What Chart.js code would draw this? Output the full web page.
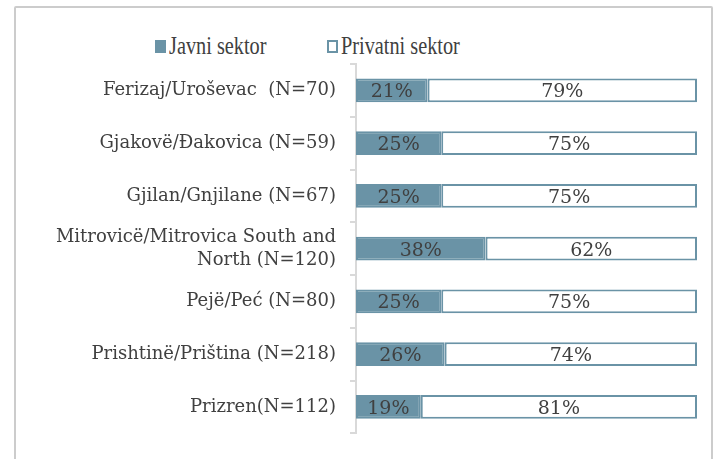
<!DOCTYPE html>
<html>
<head>
<meta charset="utf-8">
<script src="https://cdn.jsdelivr.net/npm/chart.js@4.4.1/dist/chart.umd.min.js"></script>
<style>
    html, body { margin: 0; padding: 0; background: #fff; }
    #wrap { position: relative; width: 716px; height: 459px; }
    #frame {
        position: absolute; left: 14px; top: 6px; width: 699px; height: 470px;
        border: 2px solid #cccccc; border-radius: 2px; box-sizing: border-box;
    }
    #legend {
        position: absolute; top: 31px; left: 155px;
        font-family: "Liberation Serif", serif; font-size: 26px; color: #404040;
        display: flex; align-items: center; white-space: nowrap;
    }
    #legend .item { display: flex; align-items: center; margin-right: 33px; }
    #legend .box { width: 11px; height: 13px; box-sizing: border-box; margin-right: 3px; }
    #legend .txt { display: inline-block; transform: scaleX(0.78); transform-origin: left center; }
    canvas { position: absolute; left: 0; top: 0; }
</style>
</head>
<body>
<div id="wrap">
    <div id="frame"></div>
    <div id="legend"></div>
    <canvas id="chart" width="716" height="459"></canvas>
</div>
<script>
// Data
const cities = [
    'Ferizaj/Uroševac  (N=70)',
    'Gjakovë/Đakovica (N=59)',
    'Gjilan/Gnjilane (N=67)',
    ['Mitrovicë/Mitrovica South and', 'North (N=120)'],
    'Pejë/Peć (N=80)',
    'Prishtinë/Priština (N=218)',
    'Prizren(N=112)'
];
const publicSector = [21, 25, 25, 38, 25, 26, 19];
const privateSector = [79, 75, 75, 62, 75, 74, 81];
const seriesNames = ['Javni sektor', 'Privatni sektor'];

const barColor = '#6a93a6';
const textColor = '#404040';

// Percent labels inside the bars
const barLabels = {
    id: 'barLabels',
    afterDatasetsDraw(chart) {
        const ctx = chart.ctx;
        ctx.save();
        ctx.font = '19px "DejaVu Serif", serif';
        ctx.fillStyle = textColor;
        ctx.textAlign = 'center';
        ctx.textBaseline = 'middle';
        chart.data.datasets.forEach((ds, i) => {
            chart.getDatasetMeta(i).data.forEach((bar, j) => {
                const x = (bar.base + bar.x) / 2;
                ctx.fillText(ds.data[j] + '%', x, bar.y + 2);
            });
        });
        ctx.restore();
    }
};

const chart = new Chart(document.getElementById('chart'), {
    type: 'bar',
    data: {
        labels: cities,
        datasets: [
            {
                label: seriesNames[0],
                data: publicSector,
                backgroundColor: barColor,
                borderColor: barColor,
                borderWidth: 2,
                borderSkipped: false,
                barPercentage: 0.45,
                categoryPercentage: 1
            },
            {
                label: seriesNames[1],
                data: privateSector,
                backgroundColor: '#ffffff',
                borderColor: barColor,
                borderWidth: 2,
                borderSkipped: false,
                barPercentage: 0.45,
                categoryPercentage: 1
            }
        ]
    },
    options: {
        indexAxis: 'y',
        responsive: false,
        animation: false,
        layout: { padding: { top: 64, bottom: 12, right: 19, left: 0 } },
        plugins: {
            legend: { display: false },
            tooltip: { enabled: false }
        },
        scales: {
            x: {
                stacked: true,
                min: 0,
                max: 100,
                display: false
            },
            y: {
                stacked: true,
                afterFit(scale) { scale.width = 356; },
                grid: {
                    display: true,
                    offset: true,
                    drawOnChartArea: false,
                    tickLength: 6,
                    color: '#d9d9d9',
                    lineWidth: 2
                },
                border: { display: true, color: '#d9d9d9', width: 2 },
                ticks: {
                    color: textColor,
                    padding: 14,
                    font: { family: '"DejaVu Serif", serif', size: 18, lineHeight: 1.3 }
                }
            }
        }
    },
    plugins: [barLabels]
});

// HTML legend built from the datasets
const legend = document.getElementById('legend');
chart.data.datasets.forEach((ds) => {
    const item = document.createElement('div');
    item.className = 'item';
    const box = document.createElement('span');
    box.className = 'box';
    box.style.background = ds.backgroundColor;
    box.style.border = '2px solid ' + ds.borderColor;
    const txt = document.createElement('span');
    txt.className = 'txt';
    txt.textContent = ds.label;
    item.appendChild(box);
    item.appendChild(txt);
    legend.appendChild(item);
});
</script>
</body>
</html>
